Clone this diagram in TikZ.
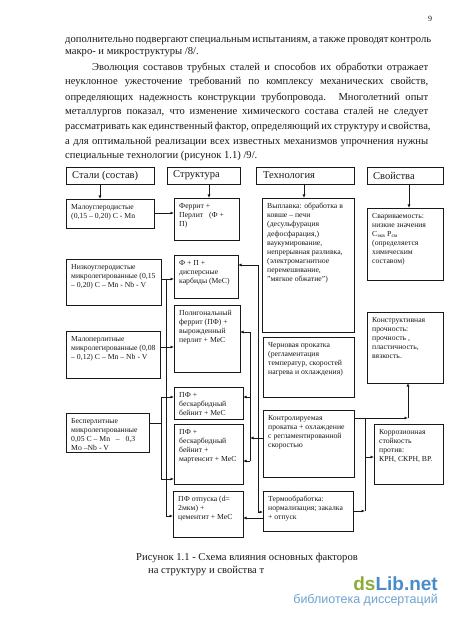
\documentclass[tikz,border=0pt]{standalone}
\usepackage{fontspec}
\setmainfont{Liberation Serif}
\newfontfamily\wmfont{Liberation Sans}
\usetikzlibrary{arrows.meta}
\definecolor{ink}{RGB}{25,25,25}
\definecolor{wmgreen}{RGB}{140,172,58}
\definecolor{wmblue}{RGB}{72,140,200}
\newcommand\mybox[5]{\node[box,minimum width={(#3-#1)*1pt},minimum height={(#4-#2)*1pt}] (#5) at (#1,#2) {};}
\begin{document}
\begin{tikzpicture}[x=1pt,y=-1pt,
 box/.style={draw=ink, line width=0.8pt, anchor=north west, inner sep=0pt, outer sep=0pt},
 hdr/.style={font=\fontsize{10.5}{12}\selectfont, anchor=west, inner sep=0pt, text=ink},
 txt/.style={font=\fontsize{7.7}{9.1}\selectfont, anchor=north west, align=left, inner sep=0pt, text=ink},
 body/.style={font=\fontsize{10.6}{12}\selectfont, anchor=base west, inner sep=0pt, text=ink},
 conn/.style={draw=ink, line width=0.7pt},
 arr/.style={conn, -{Latex[length=3.5pt,width=3pt]}},
]
\useasboundingbox[fill=white] (0,0) rectangle (450,620);

% page text
\node[body,font=\fontsize{8}{9}\selectfont] (pn) at (428,22) {9};
\node[body] (l1) at (65,43) {\makebox[363pt][s]{дополнительно подвергают специальным испытаниям, а также проводят контроль}};
\node[body] (l2) at (65,55) {макро- и микроструктуры /8/.};
\node[body] (l3) at (92,71) {\makebox[336pt][s]{Эволюция составов трубных сталей и способов их обработки отражает}};
\node[body] (l4) at (65,85) {\makebox[363pt][s]{неуклонное ужесточение требований по комплексу механических свойств,}};
\node[body] (l5) at (65,101) {\makebox[363pt][s]{определяющих надежность конструкции трубопровода. Многолетний опыт}};
\node[body] (l6) at (65,115) {\makebox[363pt][s]{металлургов показал, что изменение химического состава сталей не следует}};
\node[body] (l7) at (65,130) {\makebox[363pt][s]{рассматривать как единственный фактор, определяющий их структуру и свойства,}};
\node[body] (l8) at (65,145) {\makebox[363pt][s]{а для оптимальной реализации всех известных механизмов упрочнения нужны}};
\node[body] (l9) at (65,159) {специальные технологии (рисунок 1.1) /9/.};

% headers
\mybox{66}{167}{154}{184}{h1}
\mybox{167}{167}{240}{184}{h2}
\mybox{256}{167}{354}{184}{h3}
\mybox{367}{167}{443}{184}{h4}
\node[hdr] (h1t) at (72,175.5) {Стали (состав)};
\node[hdr] (h2t) at (173,175.5) {Структура};
\node[hdr] (h3t) at (263,175.5) {Технология};
\node[hdr] (h4t) at (373,175.5) {Свойства};

% column 1
\mybox{66}{199}{154}{228}{s1}
\mybox{66}{259}{161}{305}{s2}
\mybox{66}{331}{160}{378}{s3}
\mybox{66}{413}{149}{452}{s4}
\node[txt] at ([shift={(5,5)}]s1.north west) {Малоуглеродистые\\(0,15 – 0,20) C - Mn};
\node[txt] at ([shift={(5,5)}]s2.north west) {Низкоуглеродистые\\микролегированные (0,15\\– 0,20) C – Mn - Nb - V};
\node[txt] at ([shift={(5,5)}]s3.north west) {Малоперлитные\\микролегированные (0,08\\– 0,12) C – Mn – Nb - V};
\node[txt] at ([shift={(5,5)}]s4.north west) {Бесперлитные\\микролегированные\\0,05 C – Mn \ \ – \ \ 0,3\\Mo –Nb - V};

% column 2
\mybox{174}{198}{239}{240}{t1}
\mybox{174}{255}{238}{298}{t2}
\mybox{174}{305}{240}{372}{t3}
\mybox{174}{387}{243}{419}{t4}
\mybox{174}{424}{243}{484}{t5}
\mybox{173}{491}{243}{537}{t6}
\node[txt] at ([shift={(5,5)}]t1.north west) {Феррит +\\Перлит \ \ (Ф +\\П)};
\node[txt] at ([shift={(5,5)}]t2.north west) {Ф + П +\\дисперсные\\карбиды (МеС)};
\node[txt] at ([shift={(5,5)}]t3.north west) {Полигональный\\феррит (ПФ) +\\вырожденный\\перлит + МеС};
\node[txt] at ([shift={(5,5)}]t4.north west) {ПФ +\\бескарбидный\\бейнит + МеС};
\node[txt] at ([shift={(5,5)}]t5.north west) {ПФ +\\бескарбидный\\бейнит +\\мартенсит + МеС};
\node[txt] at ([shift={(5,5)}]t6.north west) {ПФ отпуска (d=\\2мкм) +\\цементит + МеС};

% column 3
\mybox{262}{198}{354}{332}{p1}
\mybox{263}{337}{354}{397}{p2}
\mybox{263}{410}{354}{477}{p3}
\mybox{263}{491}{353}{531}{p4}
\node[txt] at ([shift={(5,5)}]p1.north west) {Выплавка: обработка в\\ковше – печи\\(десульфурация\\дефосфарация,)\\ваукумирование,\\непрерывная разливка,\\(электромагнитное\\перемешивание,\\"мягкое обжатие")};
\node[txt] at ([shift={(5,5)}]p2.north west) {Черновая прокатка\\(регламентация\\температур, скоростей\\нагрева и охлаждения)};
\node[txt] at ([shift={(5,5)}]p3.north west) {Контролируемая\\прокатка + охлаждение\\с регламентированной\\скоростью};
\node[txt] at ([shift={(5,5)}]p4.north west) {Термообработка:\\нормализация; закалка\\+ отпуск};

% column 4
\mybox{367}{208}{443}{280}{q1}
\mybox{367}{312}{443}{383}{q2}
\mybox{374}{424}{443}{484}{q3}
\node[txt] at ([shift={(5,5)}]q1.north west) {Свариваемость:\\низкие значения\\C\textsubscript{экв} P\textsubscript{см}\\(определяется\\химическим\\составом)};
\node[txt] at ([shift={(5,5)}]q2.north west) {Конструктивная\\прочность:\\прочность ,\\пластичность,\\вязкость.};
\node[txt] at ([shift={(5,5)}]q3.north west) {Коррозионная\\стойкость\\против:\\КРН, СКРН, ВР.};

% header arrows
\draw[arr] (h1.south -| 100,0) -- (s1.north -| 100,0);
\draw[arr] (h2.south -| 209,0) -- (t1.north -| 209,0);
\draw[arr] (h3.south -| 304,0) -- (p1.north -| 304,0);
\draw[arr] (h4.south -| 409,0) -- (q1.north -| 409,0);

% left connectors
\coordinate (v1a) at (166,279);
\coordinate (v1b) at (166,516);
\draw[arr] (s1.east |- 0,213) -- (t1.west |- 0,213);
\draw[arr] (s2.east |- 0,279) -- (t2.west |- 0,279);
\draw[conn] (v1a) -- (v1b);
\draw[arr] (v1b) -- (t6.west |- v1b);
\draw[arr] (s3.east |- 0,347) -- (t3.west |- 0,347);
\coordinate (v2a) at (161,397);
\coordinate (v2b) at (161,479);
\draw[conn] (s4.east |- 0,423) -- (161,423);
\draw[conn] (v2a) -- (v2b);
\draw[arr] (v2a) -- (t4.west |- v2a);
\draw[arr] (v2b) -- (t5.west |- v2b);

% middle connectors
\coordinate (vaT) at (258,265);
\coordinate (vaB) at (258,512);
\draw[arr] (vaT) -- (t2.east |- vaT);
\draw[conn] (vaT) -- (vaB);
\draw[arr] (vaB) -- (p4.west |- vaB);
\coordinate (vbT) at (250,332);
\coordinate (vbB) at (250,461);
\draw[conn] (vbT) -- (vbB);
\draw[arr] (vbT) -- (t3.east |- vbT);
\draw[arr] (250,397) -- (t4.east |- 0,397);
\draw[arr] (vbB) -- (t5.east |- vbB);
\draw[arr] (p3.west |- 0,438) -- (vbT |- 0,438);
\draw[arr] (p4.west |- 0,518) -- (t6.east |- 0,518);

% right connectors
\coordinate (rc) at (408,418);
\coordinate (vcT) at (365,418);
\coordinate (vcB) at (365,511);
\draw[arr] (p3.east |- rc) -- (rc);
\draw[arr] (rc) -- (q2.south -| rc);
\draw[conn] (vcT) -- (vcB);
\draw[arr] (vcT |- 0,457) -- (q3.west |- 0,457);
\draw[arr] (p4.east |- vcB) -- (vcB);

% caption
\node[body] (c1) at (136,560) {Рисунок 1.1 - Схема влияния основных факторов};
\node[body] (c2) at (148,573) {на структуру и свойства т};

% watermark
\node[anchor=base east, inner sep=0pt, font=\wmfont\bfseries\fontsize{19}{20}\selectfont] (wm1) at (438,590) {\textcolor{wmgreen}{ds}\textcolor{wmblue}{Lib.net}};
\node[anchor=base east, inner sep=0pt, text=wmblue!80, font=\wmfont\fontsize{12.5}{14}\selectfont] (wm2) at (438,603) {библиотека диссертаций};
\end{tikzpicture}
\end{document}
